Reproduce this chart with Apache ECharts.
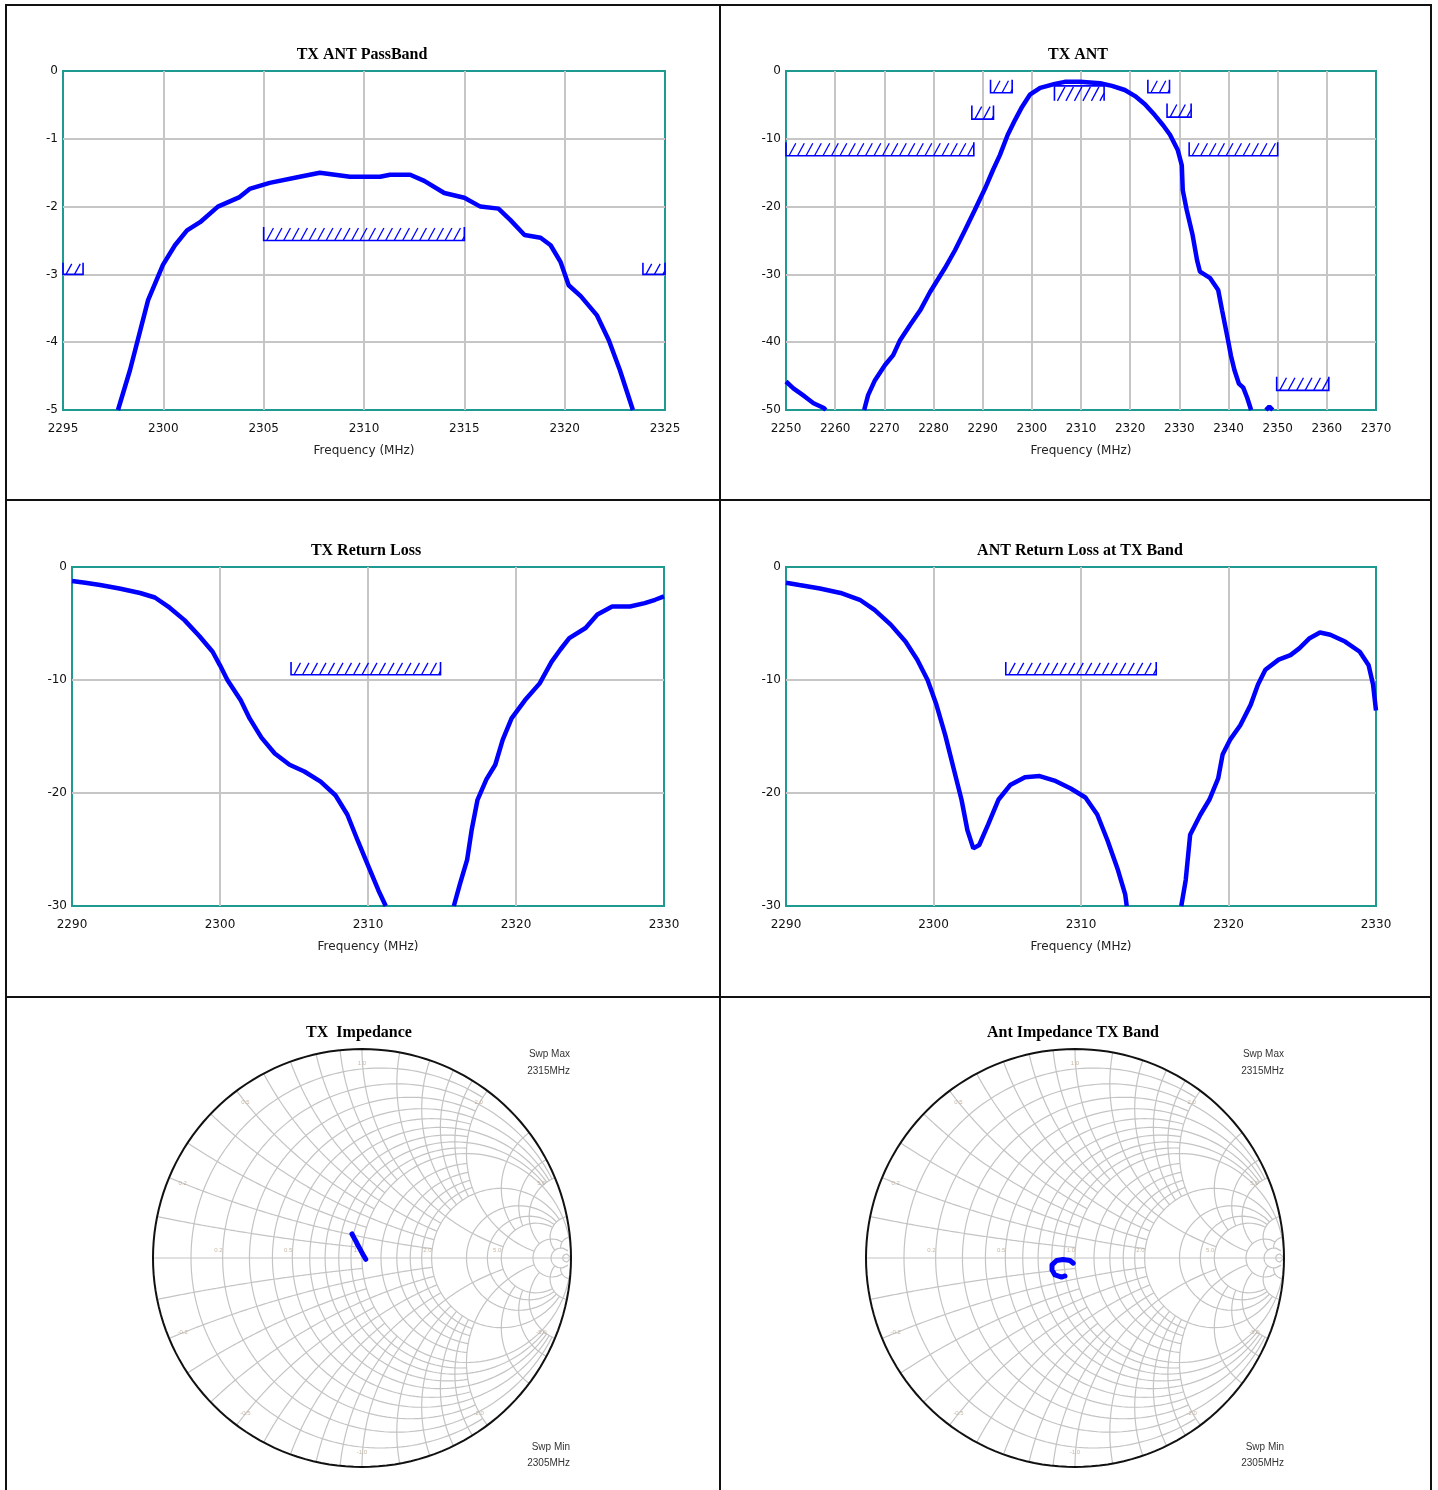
<!DOCTYPE html>
<html><head><meta charset="utf-8">
<script src="https://cdn.jsdelivr.net/npm/echarts@6/dist/echarts.min.js"></script>
<style>html,body{margin:0;padding:0;background:#fff}#c{width:1438px;height:1490px}</style>
</head><body><div id="c"></div><script>
// ---------- DATA ----------
const passFreq = [2297.74, 2298.34, 2299.24, 2299.98, 2300.58, 2301.18, 2301.83, 2302.72, 2303.8, 2304.3, 2305.3, 2306.8, 2307.8, 2308.55, 2309.3, 2310.8, 2311.3, 2312.3, 2313.0, 2314.0, 2315.0, 2315.8, 2316.7, 2317.3, 2318.0, 2318.8, 2319.3, 2319.8, 2320.2, 2320.8, 2321.6, 2322.2, 2322.75, 2323.4];
const passLoss = [-5.0, -4.41, -3.38, -2.86, -2.57, -2.35, -2.23, -2.0, -1.86, -1.74, -1.65, -1.56, -1.50, -1.53, -1.56, -1.56, -1.53, -1.53, -1.62, -1.80, -1.87, -2.0, -2.03, -2.2, -2.42, -2.46, -2.57, -2.82, -3.16, -3.32, -3.6, -3.97, -4.41, -5.0];
const passMask = [[2305, 2315, -2.5, -2.3], [2295, 2296, -3, -2.83], [2323.9, 2325, -3, -2.83]];

const antFreq = [2250, 2251.5, 2253.8, 2255.6, 2257.7, 2258.1, null,
  2265.9, 2266.7, 2268.1, 2270.1, 2271.8, 2273.2, 2275.2, 2277.3, 2279.3, 2282.3, 2284.4, 2286.4, 2288.4, 2290.5, 2292.1, 2293.5, 2295.1, 2296.6, 2298.0, 2299.6, 2301.7, 2304.7, 2306.7, 2309.8, 2313.9, 2316.3, 2318.9, 2321.0, 2323.0, 2325.0, 2326.7, 2328.1, 2329.7, 2330.5, 2330.7, 2331.5, 2332.7, 2333.6, 2334.2, 2336.2, 2337.9, 2338.7, 2339.9, 2340.5, 2341.2, 2342.1, 2343.0, 2343.8, 2344.6, null,
  2347.6, 2348.3, 2349.0];
const antRej = [-45.8, -46.8, -48.0, -49.0, -49.7, -50, null,
  -50, -47.8, -45.6, -43.4, -41.9, -39.7, -37.5, -35.3, -32.6, -29.1, -26.4, -23.5, -20.5, -17.3, -14.6, -12.4, -9.4, -7.2, -5.3, -3.5, -2.5, -1.9, -1.6, -1.6, -1.8, -2.2, -2.8, -3.7, -4.9, -6.5, -8.0, -9.4, -11.7, -13.9, -17.6, -20.5, -24.2, -27.9, -29.6, -30.5, -32.3, -35.3, -39.7, -42.0, -44.1, -46.1, -46.7, -48.2, -50, null,
  -50, -49.5, -50];
const antMask = [[2250, 2288.2, -12.5, -10.5], [2287.8, 2292.2, -7.1, -5.1], [2291.6, 2296, -3.2, -1.3], [2304.6, 2314.7, -2.2, -4.4], [2323.6, 2328, -3.2, -1.3], [2327.5, 2332.4, -6.8, -4.8], [2332, 2350, -12.5, -10.5], [2349.8, 2360.4, -47.1, -45.1]];

const rlTxFreq = [2290, 2290.9, 2291.9, 2293.2, 2294.6, 2295.6, 2296.6, 2297.6, 2298.6, 2299.5, 2300.0, 2300.5, 2301.4, 2302.0, 2302.8, 2303.7, 2304.7, 2305.7, 2306.8, 2307.8, 2308.6, 2309.3, 2310.0, 2310.7, 2311.2, null,
  2315.8, 2316.2, 2316.7, 2317.0, 2317.4, 2318.0, 2318.6, 2319.1, 2319.7, 2320.6, 2321.6, 2322.4, 2323.0, 2323.6, 2324.7, 2325.5, 2326.5, 2327.7, 2328.7, 2329.4, 2330];
const rlTx = [-1.24, -1.4, -1.6, -1.9, -2.3, -2.7, -3.6, -4.7, -6.1, -7.5, -8.7, -10.0, -11.8, -13.4, -15.1, -16.5, -17.5, -18.1, -19.0, -20.2, -21.9, -24.2, -26.4, -28.6, -30, null,
  -30, -28.1, -25.9, -23.3, -20.6, -18.8, -17.5, -15.3, -13.4, -11.8, -10.3, -8.4, -7.3, -6.3, -5.4, -4.2, -3.5, -3.5, -3.2, -2.9, -2.6];
const rlTxMask = [[2304.8, 2314.9, -9.54, -8.4]];

const rlAntFreq = [2290, 2290.9, 2292.3, 2293.7, 2295.0, 2296.0, 2297.1, 2298.1, 2298.9, 2299.6, 2300.2, 2300.8, 2301.3, 2301.9, 2302.3, 2302.7, 2303.1, 2303.7, 2304.4, 2305.2, 2306.2, 2307.2, 2308.2, 2309.3, 2310.3, 2311.1, 2311.8, 2312.5, 2313.0, 2313.1, null,
  2316.8, 2317.1, 2317.4, 2318.1, 2318.7, 2319.3, 2319.6, 2320.1, 2320.8, 2321.5, 2322.0, 2322.5, 2323.4, 2324.2, 2324.8, 2325.5, 2326.2, 2326.9, 2327.9, 2328.9, 2329.5, 2329.8, 2330];
const rlAnt = [-1.4, -1.6, -1.9, -2.3, -2.9, -3.8, -5.1, -6.6, -8.2, -10.0, -12.2, -14.9, -17.5, -20.6, -23.3, -24.9, -24.6, -22.8, -20.6, -19.3, -18.6, -18.5, -18.9, -19.6, -20.4, -21.9, -24.2, -26.8, -29.0, -30, null,
  -30, -27.7, -23.7, -21.9, -20.6, -18.7, -16.6, -15.3, -14.0, -12.2, -10.4, -9.1, -8.2, -7.8, -7.2, -6.3, -5.8, -6.0, -6.6, -7.5, -8.7, -10.4, -12.7];
const rlAntMask = [[2304.9, 2315.1, -9.54, -8.4]];

// reflection coefficient (Gamma) traces, 2305 -> 2315 MHz
const txGammaRe = [-0.048, -0.040, -0.030, -0.020, -0.008, 0.004, 0.018];
const txGammaIm = [0.115, 0.100, 0.082, 0.062, 0.040, 0.018, -0.006];
const antGammaRe = [-0.008, -0.024, -0.057, -0.088, -0.110, -0.110, -0.096, -0.064, -0.048];
const antGammaIm = [-0.025, -0.012, -0.007, -0.012, -0.033, -0.057, -0.081, -0.091, -0.086];

const titles = ['TX ANT PassBand', 'TX ANT', 'TX Return Loss', 'ANT Return Loss at TX Band', 'TX  Impedance', 'Ant Impedance TX Band'];
const sweepText = ['Swp Max', '2315MHz', 'Swp Min', '2305MHz'];
const smithRLabels = [0.2, 0.5, 1.0, 2.0, 5.0];
const smithXLabels = [0.2, 0.5, 1.0, 2.0, 5.0];

// ---------- HELPERS ----------
const BLUE = '#0000ff', TEAL = '#1f9a90', GRIDC = '#c6c6c6';
function pairs(fs, vs) { return fs.map((f, i) => (f == null || vs[i] == null) ? ['-', '-'] : [f, vs[i]]); }
function xAx(gi, min, max, interval) {
  return { type: 'value', gridIndex: gi, min, max, interval,
    name: 'Frequency (MHz)', nameLocation: 'middle', nameGap: 35,
    nameTextStyle: { fontFamily: 'DejaVu Sans', fontSize: 12, color: '#222' },
    axisLine: { show: false }, axisTick: { show: false },
    axisLabel: { margin: 13, fontFamily: 'DejaVu Sans', fontSize: 12, color: '#111', formatter: v => String(v) },
    splitLine: { show: true, showMinLine: false, showMaxLine: false, lineStyle: { color: GRIDC, width: 2 } } };
}
function yAx(gi, min, max, interval) {
  return { type: 'value', gridIndex: gi, min, max, interval,
    axisLine: { show: false }, axisTick: { show: false },
    axisLabel: { margin: 5, fontFamily: 'DejaVu Sans', fontSize: 12, color: '#111', formatter: v => String(v) },
    splitLine: { show: true, showMinLine: false, showMaxLine: false, lineStyle: { color: GRIDC, width: 2 } } };
}
function maskSeries(gi, data) {
  return { type: 'custom', xAxisIndex: gi, yAxisIndex: gi, data, z: 3, silent: true, clip: false,
    encode: { x: [0, 1], y: [2, 3] },
    renderItem(params, api) {
      const pa = api.coord([api.value(0), api.value(2)]);
      const pb = api.coord([api.value(1), api.value(3)]);
      const xL = Math.min(pa[0], pb[0]), xR = Math.max(pa[0], pb[0]);
      const yLine = pa[1], yOther = pb[1];
      const top = Math.min(yLine, yOther), bot = Math.max(yLine, yOther), h = bot - top;
      const kids = [{ type: 'polyline', shape: { points: [[xL, yOther], [xL, yLine], [xR, yLine], [xR, yOther]] },
        style: { stroke: BLUE, fill: null, lineWidth: 1.6 } }];
      const dx = h * 0.5, step = 8.5;
      for (let x0 = xL + 3; x0 < xR - 1; x0 += step) {
        let xt = x0 + dx, yt = top + 1;
        if (xt > xR) { const t = (xR - x0) / dx; xt = xR; yt = bot - (h - 1) * t; }
        kids.push({ type: 'line', shape: { x1: x0, y1: bot, x2: xt, y2: yt }, style: { stroke: BLUE, lineWidth: 1.3 } });
      }
      return { type: 'group', children: kids };
    } };
}
function curve(gi, fs, vs) {
  return { type: 'line', xAxisIndex: gi, yAxisIndex: gi, data: pairs(fs, vs), showSymbol: false, symbol: 'none',
    connectNulls: false, z: 5, silent: true, lineStyle: { color: BLUE, width: 4.5 } };
}
// Smith chart grid geometry
function gam(r, x) { const d = (r + 1) * (r + 1) + x * x; return [(r * r + x * x - 1) / d, 2 * x / d]; }
function rArc(r, x1, x2) { const a1 = Math.atan(x1), a2 = Math.atan(x2), n = 160, p = []; for (let i = 0; i <= n; i++) { p.push(gam(r, Math.tan(a1 + (a2 - a1) * i / n))); } return p; }
function xArc(x, r1, r2) { const b1 = Math.atan(r1), b2 = Math.atan(r2), n = 120, p = []; for (let i = 0; i <= n; i++) { p.push(gam(Math.tan(b1 + (b2 - b1) * i / n), x)); } return p; }
function smithGrid() {
  const s = [];
  [0.1, 0.3, 0.5, 0.7, 0.9].forEach(r => s.push(rArc(r, -2, 2)));
  [0.2, 0.4, 0.6, 0.8].forEach(r => s.push(rArc(r, -5, 5)));
  s.push(rArc(1, -Infinity, Infinity));
  [1.2, 1.4, 1.6, 1.8].forEach(r => s.push(rArc(r, -2, 2)));
  [2, 3, 4, 5].forEach(r => s.push(rArc(r, -10, 10)));
  s.push(rArc(10, -20, 20)); s.push(rArc(20, -50, 50)); s.push(rArc(50, -Infinity, Infinity));
  [1, -1].forEach(sg => {
    [0.1, 0.3, 0.5, 0.7, 0.9].forEach(x => s.push(xArc(sg * x, 0, 1)));
    [0.2, 0.4, 0.6, 0.8].forEach(x => s.push(xArc(sg * x, 0, 2)));
    s.push(xArc(sg * 1, 0, 5));
    [1.2, 1.4, 1.6, 1.8].forEach(x => s.push(xArc(sg * x, 0, 2)));
    s.push(xArc(sg * 2, 0, 10));
    [3, 4].forEach(x => s.push(xArc(sg * x, 0, 5)));
    s.push(xArc(sg * 5, 0, 10));
    [10, 20].forEach(x => s.push(xArc(sg * x, 0, 20)));
  });
  s.push([[-1, 0], [1, 0]]);
  return s.map(c => ({ coords: c }));
}
function smithSeries(gi, re, im) {
  const lab = [];
  smithRLabels.forEach(r => { const g = gam(r, 0); lab.push({ value: [g[0] - 0.02, 0.035], name: r.toFixed(1) }); });
  smithXLabels.forEach(x => { [1, -1].forEach(sg => { const g = gam(0, sg * x); lab.push({ value: [g[0] * 0.93, g[1] * 0.93], name: (sg < 0 ? '-' : '') + x.toFixed(1) }); }); });
  return [
    { type: 'lines', coordinateSystem: 'cartesian2d', xAxisIndex: gi, yAxisIndex: gi, polyline: true, silent: true, z: 1,
      lineStyle: { color: '#c4c4c4', width: 1.2, opacity: 1 }, data: smithGrid() },
    { type: 'lines', coordinateSystem: 'cartesian2d', xAxisIndex: gi, yAxisIndex: gi, polyline: true, silent: true, z: 2,
      lineStyle: { color: '#111', width: 2, opacity: 1 }, data: [{ coords: rArc(0, -Infinity, Infinity) }] },
    { type: 'scatter', xAxisIndex: gi, yAxisIndex: gi, symbolSize: 1, itemStyle: { color: 'rgba(0,0,0,0)' }, silent: true, z: 2,
      label: { show: true, position: 'inside', formatter: p => p.name, fontSize: 6, color: '#b9a58e', fontFamily: 'Liberation Sans' }, data: lab },
    { type: 'line', xAxisIndex: gi, yAxisIndex: gi, data: re.map((v, i) => [v, im[i]]), symbol: 'none', z: 5, silent: true,
      lineStyle: { color: BLUE, width: 5, cap: 'round', join: 'round' } }
  ];
}

// ---------- CHART ----------
const chart = echarts.init(document.getElementById('c'), null, { renderer: 'canvas' });
const gridBox = (l, t, w, h) => ({ left: l, top: t, width: w, height: h, show: true, borderColor: TEAL, borderWidth: 2, backgroundColor: 'transparent' });
const smithBox = (l, t) => ({ left: l, top: t, width: 418, height: 418, show: false });
function ttl(text, x, y) { return { type: 'text', x, y, z: 10, style: { text, fontFamily: 'Liberation Serif', fontWeight: 'bold', fontSize: 16, fill: '#000', align: 'center', verticalAlign: 'middle' } }; }
function sw(text, x, y) { return { type: 'text', x, y, z: 10, style: { text, fontFamily: 'Liberation Sans', fontSize: 10, fill: '#333', align: 'right', verticalAlign: 'middle' } }; }

chart.setOption({
  animation: false,
  backgroundColor: '#fff',
  grid: [gridBox(63, 71, 602, 339), gridBox(786, 71, 590, 339), gridBox(72, 567, 592, 339), gridBox(786, 567, 590, 339), smithBox(153, 1049), smithBox(866, 1049)],
  xAxis: [xAx(0, 2295, 2325, 5), xAx(1, 2250, 2370, 10), xAx(2, 2290, 2330, 10), xAx(3, 2290, 2330, 10),
    { type: 'value', gridIndex: 4, min: -1, max: 1, show: false }, { type: 'value', gridIndex: 5, min: -1, max: 1, show: false }],
  yAxis: [yAx(0, -5, 0, 1), yAx(1, -50, 0, 10), yAx(2, -30, 0, 10), yAx(3, -30, 0, 10),
    { type: 'value', gridIndex: 4, min: -1, max: 1, show: false }, { type: 'value', gridIndex: 5, min: -1, max: 1, show: false }],
  series: [
    maskSeries(0, passMask), curve(0, passFreq, passLoss),
    maskSeries(1, antMask), curve(1, antFreq, antRej),
    maskSeries(2, rlTxMask), curve(2, rlTxFreq, rlTx),
    maskSeries(3, rlAntMask), curve(3, rlAntFreq, rlAnt),
    ...smithSeries(4, txGammaRe, txGammaIm),
    ...smithSeries(5, antGammaRe, antGammaIm)
  ],
  graphic: [
    { type: 'rect', shape: { x: 6, y: 5, width: 1425, height: 1500 }, style: { fill: null, stroke: '#111', lineWidth: 2 }, z: 0 },
    { type: 'line', shape: { x1: 720, y1: 5, x2: 720, y2: 1495 }, style: { stroke: '#111', lineWidth: 2 }, z: 0 },
    { type: 'line', shape: { x1: 6, y1: 500, x2: 1431, y2: 500 }, style: { stroke: '#111', lineWidth: 2 }, z: 0 },
    { type: 'line', shape: { x1: 6, y1: 997, x2: 1431, y2: 997 }, style: { stroke: '#111', lineWidth: 2 }, z: 0 },
    ttl(titles[0], 362, 55), ttl(titles[1], 1078, 55), ttl(titles[2], 366, 551), ttl(titles[3], 1080, 551),
    ttl(titles[4], 359, 1033), ttl(titles[5], 1073, 1033),
    sw(sweepText[0], 570, 1054), sw(sweepText[1], 570, 1071), sw(sweepText[2], 570, 1447), sw(sweepText[3], 570, 1463),
    sw(sweepText[0], 1284, 1054), sw(sweepText[1], 1284, 1071), sw(sweepText[2], 1284, 1447), sw(sweepText[3], 1284, 1463)
  ]
});
</script></body></html>
